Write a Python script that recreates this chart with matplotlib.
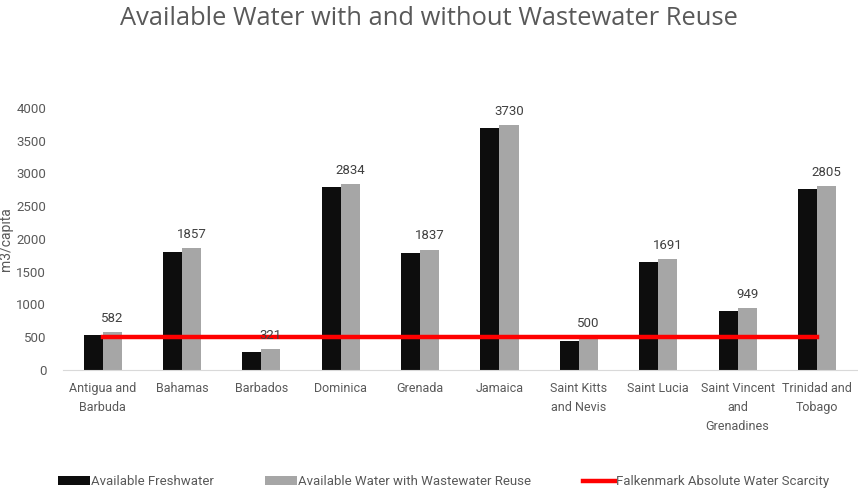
import matplotlib.pyplot as plt
import numpy as np

countries = ['Antigua and\nBarbuda', 'Bahamas', 'Barbados', 'Dominica', 'Grenada',
             'Jamaica', 'Saint Kitts\nand Nevis', 'Saint Lucia',
             'Saint Vincent\nand\nGrenadines', 'Trinidad and\nTobago']
freshwater = [540, 1805, 270, 2790, 1785, 3685, 447, 1642, 900, 2756]
with_reuse = [582, 1857, 321, 2834, 1837, 3730, 500, 1691, 949, 2805]
falkenmark = [500] * len(countries)

gray_text = '#595959'
font = 'Roboto'

fig = plt.figure(figsize=(8.58, 4.9), dpi=100)
ax = fig.add_axes([0.0734, 0.245, 0.925, 0.535])

x = np.arange(len(countries))
w = 0.24
b1 = ax.bar(x - w/2, freshwater, w, color='#0d0d0d', label='Available Freshwater', zorder=2)
b2 = ax.bar(x + w/2, with_reuse, w, color='#a6a6a6', label='Available Water with Wastewater Reuse', zorder=2)
ln, = ax.plot(x, falkenmark, color='#ff0000', lw=3.2, label='Falkenmark Absolute Water Scarcity', zorder=3)

for xi, v in zip(x, with_reuse):
    ax.text(xi + w/2, v + 110, str(v), ha='center', va='bottom',
            fontsize=9.5, color='#404040', family=font)

ax.set_xlim(-0.5, len(countries) - 0.5)
ax.set_ylim(0, 4000)
ax.set_yticks(range(0, 4001, 500))
ax.set_xticks(x)
ax.set_xticklabels(countries, fontsize=9, color=gray_text, family=font, linespacing=1.6)
for lab in ax.get_yticklabels():
    lab.set_fontsize(9.5)
    lab.set_color(gray_text)
    lab.set_family(font)
ax.tick_params(axis='y', length=0, pad=12)
ax.tick_params(axis='x', length=0, pad=9)
for s in ['top', 'right', 'left']:
    ax.spines[s].set_visible(False)
ax.spines['bottom'].set_color('#d9d9d9')
ax.set_ylabel('m3/capita', fontsize=10, color=gray_text, family=font)
ax.yaxis.set_label_coords(-0.063, 0.5)

fig.suptitle('Available Water with and without Wastewater Reuse', y=0.988,
             fontsize=18.4, color=gray_text, family='Open Sans')

fig.legend(handles=[b1, b2, ln], loc='center', bbox_to_anchor=(0.517, 0.017), ncol=3,
           frameon=False, prop={'family': font, 'size': 9.5}, labelcolor=gray_text,
           columnspacing=3.9, handlelength=2.4, handletextpad=0.1, handleheight=0.6,
           borderpad=0.1)

fig.savefig('out.png', dpi=100)
